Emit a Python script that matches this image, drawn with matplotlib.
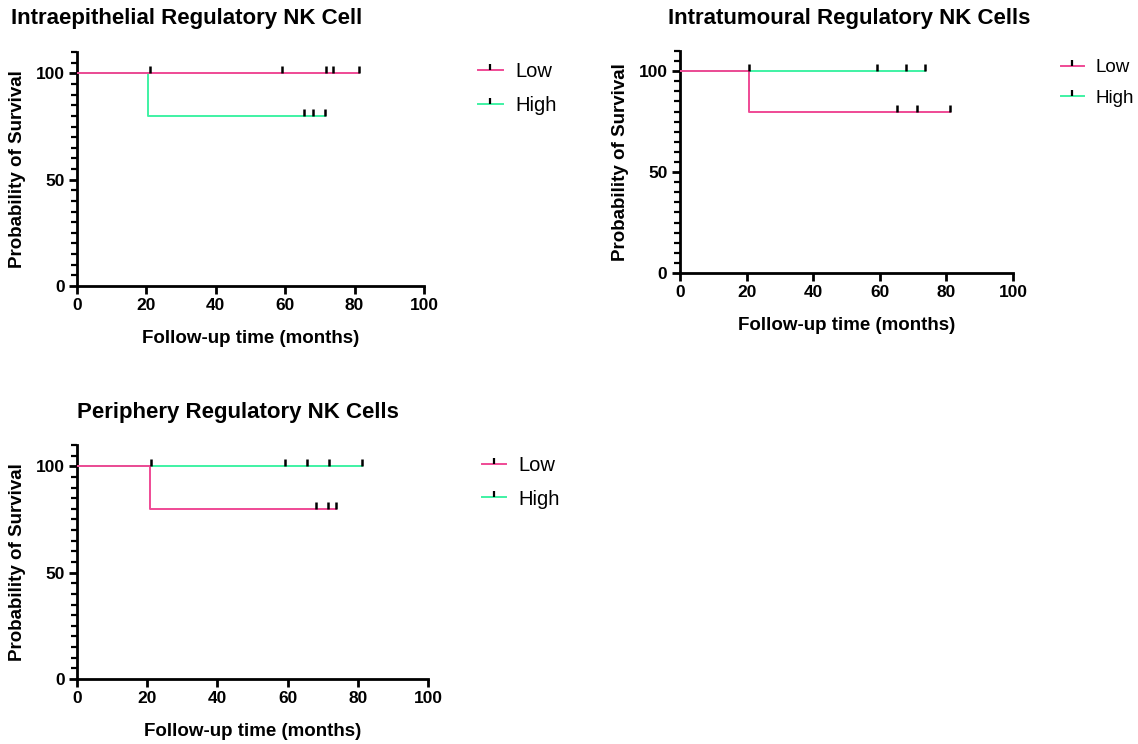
import matplotlib
matplotlib.use("Agg")
import matplotlib.pyplot as plt
from matplotlib.lines import Line2D
from matplotlib.path import Path
from matplotlib.ticker import MultipleLocator

plt.rcParams['font.family'] = ['Liberation Sans', 'DejaVu Sans']

titles = ["Intraepithelial Regulatory NK Cell",
          "Intratumoural Regulatory NK Cells",
          "Periphery Regulatory NK Cells"]
groups = ["Low", "High"]

# survival curves: step times and survival (%) after each step, plus censored times
low_steps_t = [[0], [0, 20.6], [0, 20.8]]
low_steps_s = [[100], [100, 80], [100, 80]]
low_censor = [[21, 59.2, 71.7, 73.9, 81.2],
              [65.3, 71.3, 81.0],
              [68.1, 71.6, 73.8]]

high_steps_t = [[0, 20.5], [0], [0]]
high_steps_s = [[100, 80], [100], [100]]
high_censor = [[65.5, 68.1, 71.6],
               [20.7, 59.1, 67.9, 73.6],
               [21.0, 59.3, 65.6, 71.7, 81.2]]

pink = "#ef4a95"
green = "#3ff2a4"
tick_mark = Path([(0, 0), (0, 1)])

fig = plt.figure(figsize=(11.38, 7.44), dpi=100)

# axes boxes in figure fraction
boxes = [[0.0677, 0.6156, 0.3049, 0.3144],
         [0.5975, 0.6331, 0.2927, 0.2984],
         [0.0677, 0.0874, 0.3084, 0.3145]]
title_pos = [(0.1643, 0.975), (0.746, 0.975), (0.209, 0.445)]
legend_pos = [(0.408, 0.935), (0.921, 0.938), (0.411, 0.406)]
legend_size = [14.5, 13.5, 14.5]


def km_line(ax, st, ss, cens, color):
    t = list(st) + [max(cens)]
    s = list(ss) + [ss[-1]]
    ax.step(t, s, where='post', color=color, lw=1.4, zorder=3)
    level = [s[-1] if c >= st[-1] else ss[0] for c in cens]
    ax.plot(cens, level, ls='none', marker=tick_mark, ms=10, mew=1.8,
            color='black', zorder=4)


for i in range(3):
    ax = fig.add_axes(boxes[i])
    km_line(ax, high_steps_t[i], high_steps_s[i], high_censor[i], green)
    km_line(ax, low_steps_t[i], low_steps_s[i], low_censor[i], pink)

    ax.set_xlim(0, 100)
    ax.set_ylim(0, 110)
    ax.set_xticks([0, 20, 40, 60, 80, 100])
    ax.set_yticks([0, 50, 100])
    ax.yaxis.set_minor_locator(MultipleLocator(5))
    for side in ['top', 'right']:
        ax.spines[side].set_visible(False)
    for side in ['left', 'bottom']:
        ax.spines[side].set_linewidth(2)
    ax.tick_params(which='major', length=6, width=2, labelsize=12.5, pad=3)
    ax.tick_params(which='minor', length=4, width=1.6)
    for lab in ax.get_xticklabels() + ax.get_yticklabels():
        lab.set_fontweight('bold')
    ax.set_xlabel("Follow-up time (months)", fontsize=13.5, fontweight='bold', labelpad=12)
    ax.set_ylabel("Probability of Survival", fontsize=13.5, fontweight='bold', labelpad=7)

    fig.text(title_pos[i][0], title_pos[i][1], titles[i], fontsize=16,
             fontweight='bold', ha='center', va='center')

    handles = [Line2D([0], [0], color=pink, lw=1.4, marker=tick_mark, ms=9,
                      mew=1.6, mec='black'),
               Line2D([0], [0], color=green, lw=1.4, marker=tick_mark, ms=9,
                      mew=1.6, mec='black')]
    fig.legend(handles, groups, loc='upper left', bbox_to_anchor=legend_pos[i],
               frameon=False, fontsize=legend_size[i], numpoints=1, handlelength=1.2,
               handletextpad=0.62, labelspacing=0.72, borderaxespad=0.3)

fig.savefig("out.png", dpi=100)
